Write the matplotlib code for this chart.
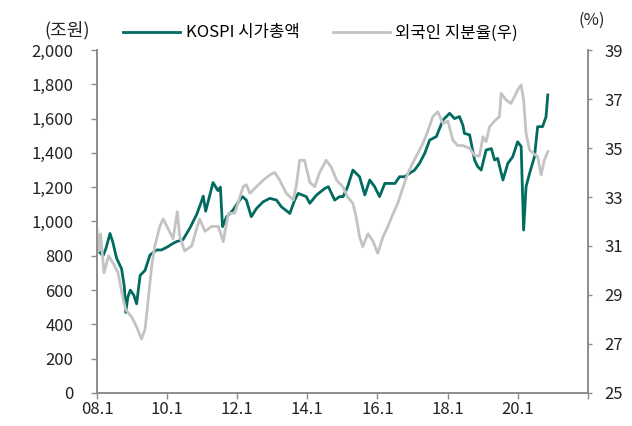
import numpy as np
import matplotlib.pyplot as plt

plt.rcParams['font.family'] = ['Noto Sans CJK KR', 'DejaVu Sans']

# KOSPI market cap (trillion won), decimal year
kospi_t = [2008.0, 2008.08, 2008.17, 2008.25, 2008.37, 2008.45, 2008.56, 2008.7, 2008.78,
           2008.82, 2008.88, 2008.95, 2009.05, 2009.13, 2009.23, 2009.37, 2009.51, 2009.7,
           2009.84, 2010.02, 2010.15, 2010.27, 2010.45, 2010.65, 2010.84, 2010.95, 2011.03,
           2011.1, 2011.31, 2011.45, 2011.52, 2011.58, 2011.7, 2011.88, 2012.07, 2012.15,
           2012.26, 2012.4, 2012.55, 2012.74, 2012.93, 2013.12, 2013.26, 2013.5, 2013.64,
           2013.74, 2013.97, 2014.07, 2014.26, 2014.5, 2014.6, 2014.78, 2014.92, 2015.02,
           2015.15, 2015.3, 2015.49, 2015.64, 2015.78, 2015.92, 2016.06, 2016.21, 2016.35,
           2016.5, 2016.63, 2016.77, 2016.92, 2017.06, 2017.2, 2017.35, 2017.49, 2017.68,
           2017.87, 2018.06, 2018.2, 2018.34, 2018.44, 2018.48, 2018.63, 2018.77, 2018.86,
           2018.96, 2019.1, 2019.25, 2019.34, 2019.43, 2019.58, 2019.72, 2019.86, 2020.0,
           2020.1, 2020.17, 2020.24, 2020.34, 2020.48, 2020.57, 2020.71, 2020.81, 2020.86]
kospi_cap = [850, 820, 800, 840, 930, 880, 785, 725, 620,
             470, 560, 600, 570, 520, 686, 715, 804, 834,
             834, 853, 870, 883, 893, 962, 1040, 1100, 1148,
             1060, 1227, 1180, 1200, 970, 1028, 1067, 1125, 1145,
             1125, 1028, 1076, 1115, 1135, 1125, 1086, 1047, 1125,
             1164, 1145, 1106, 1154, 1193, 1203, 1125, 1145, 1145,
             1203, 1300, 1261, 1155, 1242, 1203, 1145, 1222, 1222,
             1222, 1261, 1261, 1281, 1300, 1339, 1398, 1475, 1495,
             1592, 1631, 1600, 1612, 1560, 1514, 1505, 1359, 1320,
             1300, 1417, 1425, 1359, 1368, 1242, 1339, 1378, 1465,
             1437, 950, 1203, 1281, 1378, 1553, 1553, 1611, 1738]

# foreign ownership (%), right axis
foreign_t = [2008.0, 2008.05, 2008.1, 2008.2, 2008.33, 2008.46, 2008.6, 2008.75, 2008.82,
             2008.99, 2009.13, 2009.27, 2009.37, 2009.46, 2009.56, 2009.65, 2009.79, 2009.89,
             2010.03, 2010.17, 2010.29, 2010.36, 2010.5, 2010.7, 2010.84, 2010.93, 2011.08,
             2011.27, 2011.46, 2011.6, 2011.75, 2011.93, 2012.17, 2012.26, 2012.36, 2012.55,
             2012.74, 2012.93, 2013.07, 2013.21, 2013.4, 2013.6, 2013.69, 2013.78, 2013.92,
             2014.07, 2014.21, 2014.35, 2014.54, 2014.69, 2014.83, 2015.02, 2015.15, 2015.3,
             2015.39, 2015.49, 2015.58, 2015.73, 2015.87, 2016.01, 2016.16, 2016.3, 2016.44,
             2016.58, 2016.73, 2016.87, 2017.01, 2017.15, 2017.3, 2017.44, 2017.58, 2017.72,
             2017.87, 2018.01, 2018.15, 2018.29, 2018.44, 2018.63, 2018.77, 2018.91, 2019.01,
             2019.1, 2019.2, 2019.34, 2019.48, 2019.53, 2019.67, 2019.81, 2019.91, 2020.0,
             2020.1, 2020.17, 2020.24, 2020.34, 2020.43, 2020.57, 2020.67, 2020.76, 2020.86]
foreign_pct = [31.65, 30.8, 31.5, 29.9, 30.6, 30.3, 29.9, 28.8, 28.4,
               28.1, 27.7, 27.2, 27.6, 28.8, 30.2, 31.0, 31.8, 32.1,
               31.7, 31.3, 32.4, 31.4, 30.8, 31.0, 31.7, 32.1, 31.6,
               31.8, 31.8, 31.18, 32.34, 32.34, 33.42, 33.5, 33.15, 33.42,
               33.69, 33.9, 34.0, 33.69, 33.15, 32.88, 33.5, 34.5, 34.5,
               33.6, 33.42, 34.0, 34.5, 34.2, 33.7, 33.4, 33.0, 32.74,
               32.2, 31.38, 30.97, 31.5, 31.2, 30.7, 31.38, 31.8, 32.3,
               32.74, 33.4, 33.97, 34.4, 34.78, 35.2, 35.7, 36.28, 36.48,
               36.0, 36.1, 35.33, 35.1, 35.1, 34.99, 34.7, 34.67, 35.46,
               35.26, 35.87, 36.1, 36.28, 37.23, 36.96, 36.82, 37.1, 37.37,
               37.57, 36.96, 35.6, 34.92, 34.8, 34.65, 33.9, 34.5, 34.85]

x_ticks = [2008, 2010, 2012, 2014, 2016, 2018, 2020, 2022]
x_labels = ['08.1', '10.1', '12.1', '14.1', '16.1', '18.1', '20.1', '']

TEAL = '#006B5E'
GRAY = '#C3C3C3'
AXC = '#8C8C8C'

fig = plt.figure(figsize=(6.32, 4.26), dpi=100)
ax = fig.add_axes([0.1535, 0.0775, 0.7765, 0.8051])
ax2 = ax.twinx()

l1, = ax.plot(kospi_t, kospi_cap, color=TEAL, lw=2.0, label='KOSPI 시가총액')
l2, = ax2.plot(foreign_t, foreign_pct, color=GRAY, lw=2.0, label='외국인 지분율(우)')

ax.set_xlim(2008, 2022)
ax.set_ylim(0, 2000)
ax.set_yticks(np.arange(0, 2001, 200))
ax.set_yticklabels([f'{v:,}' for v in range(0, 2001, 200)])
ax.set_xticks(x_ticks)
ax.set_xticklabels(x_labels)
ax2.set_ylim(25, 39)
ax2.set_yticks(np.arange(25, 40, 2))

for a in (ax, ax2):
    a.spines['top'].set_visible(False)
    for s in ('left', 'right', 'bottom'):
        a.spines[s].set_color(AXC)
        a.spines[s].set_linewidth(1.2)
    a.tick_params(colors=AXC, labelcolor='#222222', labelsize=12, length=4, width=1.0)

ax.tick_params(axis='x', pad=2)
ax.tick_params(axis='y', pad=13)
ax2.tick_params(axis='y', pad=9, length=3)

fig.text(0.106, 0.93, '(조원)', fontsize=13, ha='center', va='center', color='#222222')
fig.text(0.936, 0.952, '(%)', fontsize=12, ha='center', va='center', color='#222222')

ax.legend(handles=[l1, l2], ncol=2, frameon=False, fontsize=12,
          loc='center left', bbox_to_anchor=(0.04, 1.05), handlelength=3.4,
          handletextpad=0.35, columnspacing=2.0, borderaxespad=0)

fig.savefig('out.png', dpi=100)
